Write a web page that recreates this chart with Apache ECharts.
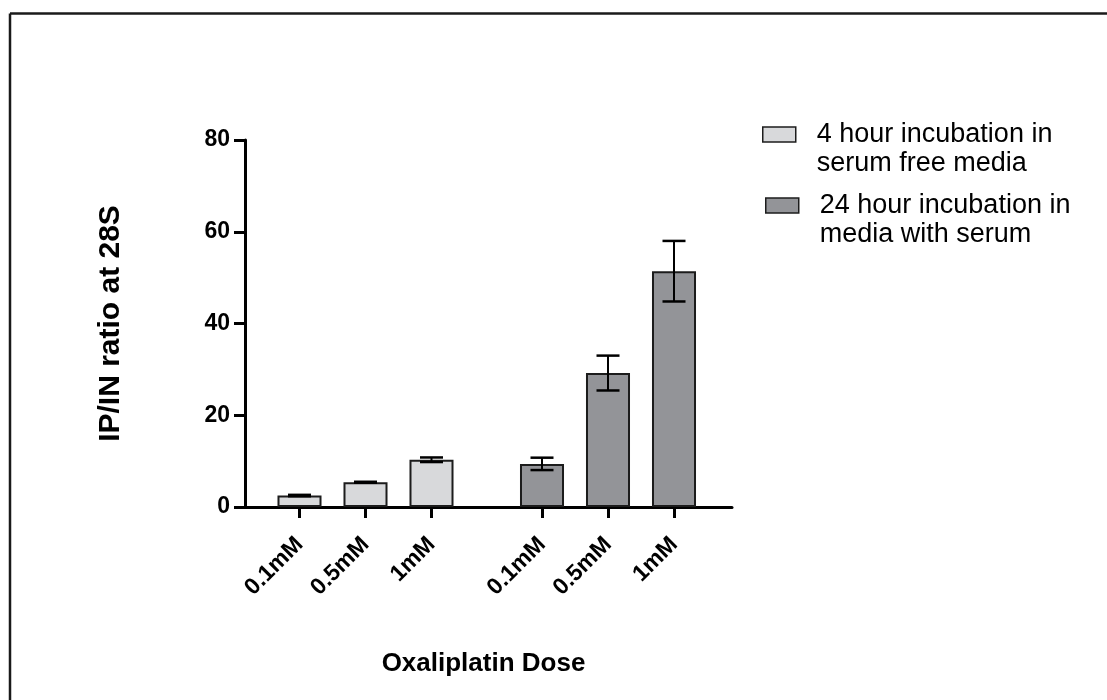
<!DOCTYPE html>
<html>
<head>
<meta charset="utf-8">
<script src="https://cdn.jsdelivr.net/npm/echarts@6/dist/echarts.min.js"></script>
<style>
  html, body { margin: 0; padding: 0; background: #ffffff; }
  #chart { width: 1107px; height: 700px; }
</style>
</head>
<body>
<div id="chart"></div>
<script>
// ---- data ----
const doseLabels = ['0.1mM', '0.5mM', '1mM'];
const seriesNames = ['4 hour incubation in serum free media', '24 hour incubation in media with serum'];
const legendLabels = ['4 hour incubation in\nserum free media', '24 hour incubation in\nmedia with serum'];
const values4h = [2.5, 5.4, 10.3];
const errors4h = [0.15, 0.1, 0.5];
const values24h = [9.4, 29.2, 51.4];
const errors24h = [1.35, 3.8, 6.6];
const yMin = 0, yMax = 80, yInterval = 20;
const yTitle = 'IP/IN ratio at 28S';
const xTitle = 'Oxaliplatin Dose';

const FONT = '"Liberation Sans", Arial, Helvetica, sans-serif';
const colors = ['#d8d9db', '#939498'];
const outline = '#1c1c1c';

function errData(vals, errs) {
  return vals.map((v, i) => [i, v - errs[i], v + errs[i]]);
}

function errRender(params, api) {
  const x = api.value(0);
  const lo = api.coord([x, api.value(1)]);
  const hi = api.coord([x, api.value(2)]);
  const hw = 11.5;
  return {
    type: 'group',
    children: [
      { type: 'line', shape: { x1: lo[0], y1: lo[1], x2: hi[0], y2: hi[1] }, style: { stroke: '#000', lineWidth: 2 } },
      { type: 'line', shape: { x1: hi[0] - hw, y1: hi[1], x2: hi[0] + hw, y2: hi[1] }, style: { stroke: '#000', lineWidth: 2.5 } },
      { type: 'line', shape: { x1: lo[0] - hw, y1: lo[1], x2: lo[0] + hw, y2: lo[1] }, style: { stroke: '#000', lineWidth: 2.5 } }
    ]
  };
}

const gridTop = 140, gridBottom = 193;
const groupAxis = (gi) => ({
  type: 'category',
  gridIndex: gi,
  data: doseLabels,
  axisLine: { show: false },
  axisTick: { show: true, alignWithLabel: true, length: 11, lineStyle: { color: '#000', width: 3 } },
  axisLabel: { rotate: 45, margin: 34, fontFamily: FONT, fontWeight: 'bold', fontSize: 23, color: '#000', interval: 0 },
  splitLine: { show: false }
});
const hiddenY = (gi) => ({ type: 'value', gridIndex: gi, min: yMin, max: yMax, interval: yInterval, show: false });

const legendCommon = {
  orient: 'vertical',
  padding: 0,
  icon: 'rect',
  itemWidth: 33,
  itemHeight: 15,
  itemStyle: { borderColor: outline, borderWidth: 1.5 },
  // leading blank line keeps the first text line level with the swatch
  formatter: (name) => '\n' + legendLabels[seriesNames.indexOf(name)],
  textStyle: { fontFamily: FONT, fontSize: 27, lineHeight: 29, color: '#000', padding: [0, 0, 0, 16] },
  selectedMode: false
};

const option = {
  backgroundColor: '#ffffff',
  animation: false,
  grid: [
    { left: 245, right: 375, top: gridTop, bottom: gridBottom },
    { left: 266.5, width: 198, top: gridTop, bottom: gridBottom },
    { left: 509, width: 198, top: gridTop, bottom: gridBottom }
  ],
  xAxis: [
    {
      type: 'value', gridIndex: 0, min: 0, max: 1,
      axisLine: { show: true, lineStyle: { color: '#000', width: 3 } },
      axisTick: { show: false }, axisLabel: { show: false }, splitLine: { show: false },
      name: xTitle, nameLocation: 'middle', nameGap: 144,
      nameTextStyle: { fontFamily: FONT, fontWeight: 'bold', fontSize: 26, color: '#000', padding: [0, 10, 0, 0] }
    },
    groupAxis(1),
    groupAxis(2)
  ],
  yAxis: [
    {
      type: 'value', gridIndex: 0, min: yMin, max: yMax, interval: yInterval,
      axisLine: { show: true, lineStyle: { color: '#000', width: 3 } },
      axisTick: { show: true, length: 11, lineStyle: { color: '#000', width: 3 } },
      axisLabel: { margin: 15, fontFamily: FONT, fontWeight: 'bold', fontSize: 23, color: '#000' },
      splitLine: { show: false },
      name: yTitle, nameLocation: 'middle', nameGap: 119,
      nameTextStyle: { fontFamily: FONT, fontWeight: 'bold', fontSize: 30, color: '#000' }
    },
    hiddenY(1),
    hiddenY(2)
  ],
  legend: [
    Object.assign({}, legendCommon, { data: [seriesNames[0]], left: 762, top: 91 }),
    Object.assign({}, legendCommon, { data: [seriesNames[1]], left: 765, top: 162 })
  ],
  series: [
    {
      name: seriesNames[0], type: 'bar', xAxisIndex: 1, yAxisIndex: 1,
      data: values4h, barCategoryGap: '33.3%',
      itemStyle: { color: colors[0], borderColor: outline, borderWidth: 2 }
    },
    {
      name: seriesNames[1], type: 'bar', xAxisIndex: 2, yAxisIndex: 2,
      data: values24h, barCategoryGap: '33.3%',
      itemStyle: { color: colors[1], borderColor: outline, borderWidth: 2 }
    },
    {
      type: 'custom', xAxisIndex: 1, yAxisIndex: 1, z: 5,
      renderItem: errRender, data: errData(values4h, errors4h)
    },
    {
      type: 'custom', xAxisIndex: 2, yAxisIndex: 2, z: 5,
      renderItem: errRender, data: errData(values24h, errors24h)
    }
  ],
  graphic: [
    { type: 'line', shape: { x1: 10, y1: 13.5, x2: 1107, y2: 13.5 }, style: { stroke: '#1a1a1a', lineWidth: 2.5 }, silent: true },
    { type: 'line', shape: { x1: 10, y1: 13.5, x2: 10, y2: 700 }, style: { stroke: '#1a1a1a', lineWidth: 2.5 }, silent: true }
  ]
};

const chart = echarts.init(document.getElementById('chart'), null, { renderer: 'canvas' });
chart.setOption(option);
</script>
</body>
</html>
